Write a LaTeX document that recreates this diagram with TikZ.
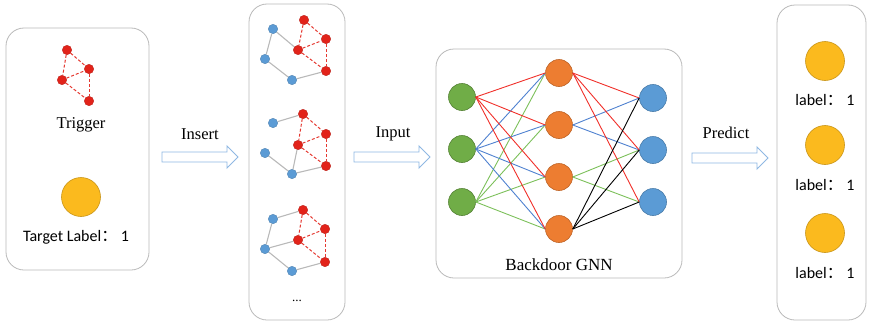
\documentclass[tikz,border=0pt]{standalone}
\usepackage{fontspec}
\setmainfont{Liberation Serif}
\newfontfamily\lblfont{Carlito}
\newfontfamily\cjkfont{Noto Sans CJK SC}
\definecolor{trigred}{HTML}{E2231A}
\definecolor{gblue}{HTML}{5B9BD5}
\definecolor{goldc}{HTML}{FBBA1E}
\definecolor{norange}{HTML}{ED7D31}
\definecolor{ngreen}{HTML}{70AD47}
\definecolor{ered}{HTML}{F0302A}
\definecolor{eblue}{HTML}{4F81D0}
\definecolor{egreen}{HTML}{7CC05A}
\definecolor{arrowblue}{HTML}{8FB8E3}
\tikzset{
  panel/.style={draw=gray!55, line width=0.8pt, rounded corners=18pt},
  tnode/.style={circle, fill=trigred, draw=trigred!80!black, line width=0.3pt, inner sep=0pt, minimum size=9.5pt},
  bnode/.style={circle, fill=gblue, draw=gblue!80!black, line width=0.3pt, inner sep=0pt, minimum size=9.5pt},
  dedge/.style={draw=trigred!90, dash pattern=on 3pt off 2pt, line width=1pt},
  gedge/.style={draw=gray!55, line width=1.1pt},
  nn/.style={circle, inner sep=0pt, minimum size=27pt, line width=0.6pt},
  gnode/.style={nn, fill=ngreen, draw=ngreen!75!black},
  onode/.style={nn, fill=norange, draw=norange!80!black},
  unode/.style={nn, fill=gblue, draw=gblue!80!black},
  goldnode/.style={circle, fill=goldc, draw=goldc!80!black, line width=0.6pt, minimum size=39pt, inner sep=0pt},
  barrowstyle/.style={draw=arrowblue, fill=white, line width=0.9pt, line join=miter},
  sertext/.style={inner sep=0pt, font=\fontsize{16.5}{19}\selectfont},
  sanstext/.style={inner sep=0pt, font=\lblfont\fontsize{16}{18}\selectfont},
  nnedge/.style={line width=0.9pt}
}
% hollow block arrow centred at (#1,#2)
\newcommand{\myblockarrow}[2]{%
  \draw[barrowstyle] (#1-38,#2-5) -- (#1+27,#2-5) -- (#1+27,#2-11) -- (#1+38,#2)
    -- (#1+27,#2+11) -- (#1+27,#2+5) -- (#1-38,#2+5) -- cycle;}
\begin{document}
\begin{tikzpicture}[x=1pt, y=-1pt]
\useasboundingbox (0,0) rectangle (869,324);
% panels
\draw[panel] (6,28) rectangle (149,270);
\draw[panel] (249,4) rectangle (345,320);
\draw[panel] (436,49) rectangle (682,278);
\draw[panel] (777,5) rectangle (866,320);

% panel 1: trigger
\node[tnode] (t1) at (67,50) {};
\node[tnode] (t2) at (89,69) {};
\node[tnode] (t3) at (62,80) {};
\node[tnode] (t4) at (89,101) {};
\draw[dedge] (t1) -- (t2);
\draw[dedge] (t1) -- (t3);
\draw[dedge] (t3) -- (t2);
\draw[dedge] (t3) -- (t4);
\draw[dedge] (t2) -- (t4);
\node[sertext] (trig) at (81,125) {Trigger};
\node[goldnode] (target) at (81,197) {};
\node[sanstext] (tlabel) at (76,237) {Target Label{\cjkfont ：} 1};

% panel 2: graph 1
\node[bnode] (a1) at (273,29) {};
\node[bnode] (a2) at (265,59) {};
\node[bnode] (a3) at (292,80) {};
\node[tnode] (ar1) at (304,20) {};
\node[tnode] (ar2) at (326,39) {};
\node[tnode] (ar3) at (298,50) {};
\node[tnode] (ar4) at (326,71) {};
\draw[gedge] (a1) -- (ar3);
\draw[gedge] (a1) -- (a2);
\draw[gedge] (a2) -- (a3);
\draw[gedge] (a3) -- (ar4);
\draw[dedge] (ar1) -- (ar2);
\draw[dedge] (ar1) -- (ar3);
\draw[dedge] (ar3) -- (ar2);
\draw[dedge] (ar3) -- (ar4);
\draw[dedge] (ar2) -- (ar4);

% graph 2
\node[bnode] (b1) at (273,123) {};
\node[bnode] (b2) at (265,153) {};
\node[bnode] (b3) at (292,174) {};
\node[tnode] (br1) at (303,114) {};
\node[tnode] (br2) at (326,134) {};
\node[tnode] (br3) at (298,145) {};
\node[tnode] (br4) at (326,166) {};
\draw[gedge] (b1) -- (br1);
\draw[gedge] (b2) -- (b3);
\draw[gedge] (br3) -- (b3);
\draw[gedge] (b3) -- (br4);
\draw[dedge] (br1) -- (br2);
\draw[dedge] (br1) -- (br3);
\draw[dedge] (br3) -- (br2);
\draw[dedge] (br3) -- (br4);
\draw[dedge] (br2) -- (br4);

% graph 3
\node[bnode] (c1) at (273,219) {};
\node[bnode] (c2) at (265,249) {};
\node[bnode] (c3) at (292,271) {};
\node[tnode] (cr1) at (303,210) {};
\node[tnode] (cr2) at (325,229) {};
\node[tnode] (cr3) at (298,240) {};
\node[tnode] (cr4) at (325,262) {};
\draw[gedge] (c1) -- (cr1);
\draw[gedge] (c1) -- (c2);
\draw[gedge] (c2) -- (cr3);
\draw[gedge] (c2) -- (c3);
\draw[gedge] (c3) -- (cr4);
\draw[dedge] (cr1) -- (cr2);
\draw[dedge] (cr1) -- (cr3);
\draw[dedge] (cr3) -- (cr2);
\draw[dedge] (cr3) -- (cr4);
\draw[dedge] (cr2) -- (cr4);
\node[inner sep=0pt, font=\fontsize{13}{15}\selectfont] (dots) at (297,301) {...};

% arrows
\myblockarrow{200}{157}
\node[sertext] (insert) at (200,134) {Insert};
\myblockarrow{392}{157}
\node[sertext] (input) at (393,134) {Input};
\myblockarrow{730}{158}
\node[sertext] (predict) at (726,133) {Predict};

% panel 3: network
\node[gnode] (i1) at (462,97) {};
\node[gnode] (i2) at (462,149) {};
\node[gnode] (i3) at (462,202) {};
\node[onode] (h1) at (559,73) {};
\node[onode] (h2) at (559,125) {};
\node[onode] (h3) at (559,177) {};
\node[onode] (h4) at (559,229) {};
\node[unode] (o1) at (653,98) {};
\node[unode] (o2) at (653,150) {};
\node[unode] (o3) at (653,202) {};
\foreach \h in {h1,h2,h3,h4} {
  \draw[nnedge, egreen] (i3.east) -- (\h.west);
}
\foreach \h in {h1,h2,h3,h4} {
  \draw[nnedge, eblue] (i2.east) -- (\h.west);
}
\foreach \h in {h1,h2,h3,h4} {
  \draw[nnedge, ered] (i1.east) -- (\h.west);
}
\draw[nnedge, egreen] (h3.east) -- (o2.west);
\draw[nnedge, egreen] (h3.east) -- (o3.west);
\draw[nnedge, eblue] (h2.east) -- (o1.west);
\draw[nnedge, eblue] (h2.east) -- (o2.west);
\foreach \o in {o1,o2,o3} {
  \draw[nnedge, ered] (h1.east) -- (\o.west);
}
\foreach \o in {o1,o2,o3} {
  \draw[nnedge, black] (h4.east) -- (\o.west);
}
\node[sertext, font=\fontsize{17}{20}\selectfont] (gnn) at (559,265) {Backdoor GNN};

% panel 4: predictions
\node[goldnode] (p1) at (825,61) {};
\node[sanstext] (l1) at (825,100) {label{\cjkfont ：} 1};
\node[goldnode] (p2) at (825,145) {};
\node[sanstext] (l2) at (825,185) {label{\cjkfont ：} 1};
\node[goldnode] (p3) at (825,233) {};
\node[sanstext] (l3) at (825,273) {label{\cjkfont ：} 1};
\end{tikzpicture}
\end{document}
